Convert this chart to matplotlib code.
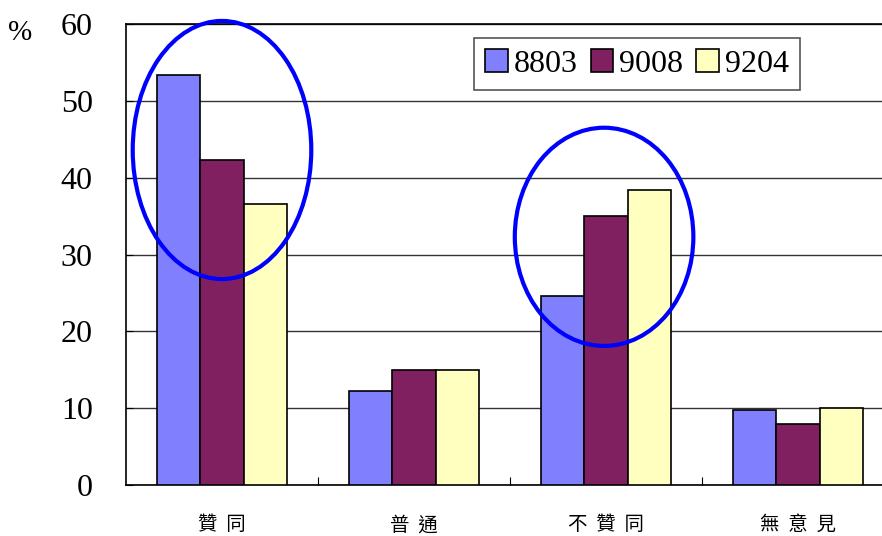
import matplotlib.pyplot as plt
import numpy as np
from matplotlib.patches import Ellipse

categories = ['贊  同', '普  通', '不  贊  同', '無  意  見']
series = ['8803', '9008', '9204']
values_8803 = [53.4, 12.2, 24.6, 9.8]
values_9008 = [42.3, 15.0, 35.0, 7.9]
values_9204 = [36.6, 15.0, 38.4, 10.0]
colors = ['#8080ff', '#802060', '#ffffc0']

plt.rcParams['font.family'] = ['Liberation Serif', 'DejaVu Serif']

fig = plt.figure(figsize=(8.82, 5.36), dpi=100)
ax = fig.add_axes([126 / 882, 51 / 536, 768 / 882, 461 / 536])

x = np.arange(len(categories))
w = 0.224
for i, (vals, col, lab) in enumerate(zip([values_8803, values_9008, values_9204], colors, series)):
    ax.bar(x + (i - 1) * w, vals, w, color=col, edgecolor='black', linewidth=1.2, label=lab, zorder=3)

ax.set_xlim(-0.5, len(categories) - 0.5)
ax.set_ylim(0, 60)
ax.set_yticks(np.arange(0, 61, 10))
ax.tick_params(axis='y', direction='in', length=5, pad=24, labelsize=23)
ax.yaxis.grid(True, color='#333333', linewidth=1)
ax.set_axisbelow(True)

# category separators as ticks, labels in the middle
ax.set_xticks(np.arange(len(categories) - 1) + 0.5)
ax.set_xticks(x, minor=True)
ax.set_xticklabels([])
ax.set_xticklabels(categories, minor=True, family=['Noto Sans CJK TC', 'DejaVu Sans'], fontsize=14)
ax.tick_params(axis='x', which='major', direction='in', length=6)
ax.tick_params(axis='x', which='minor', length=0, pad=21)
for s in ax.spines.values():
    s.set_linewidth(1.2)

# circles around the groups of interest
for cx, cy, ew, eh in [(0.0, 43.6, 0.93, 33.6), (1.99, 32.3, 0.93, 28.4)]:
    ax.add_patch(Ellipse((cx, cy), ew, eh, fill=False, edgecolor='#0000ff', linewidth=3, zorder=5, clip_on=False))

leg = ax.legend(loc='upper left', bbox_to_anchor=(474 / 882, 1 - 38 / 536), bbox_transform=fig.transFigure,
                ncol=3, fontsize=23, frameon=True, fancybox=False, edgecolor='#555555', framealpha=1,
                handlelength=0.7, handleheight=0.7, handletextpad=0.2, columnspacing=0.4,
                borderpad=0.35, borderaxespad=0)
leg.get_frame().set_linewidth(1.2)

fig.text(20 / 882, 1 - 33 / 536, '%', fontsize=21, ha='center', va='center')

plt.savefig('out.png', dpi=100)
